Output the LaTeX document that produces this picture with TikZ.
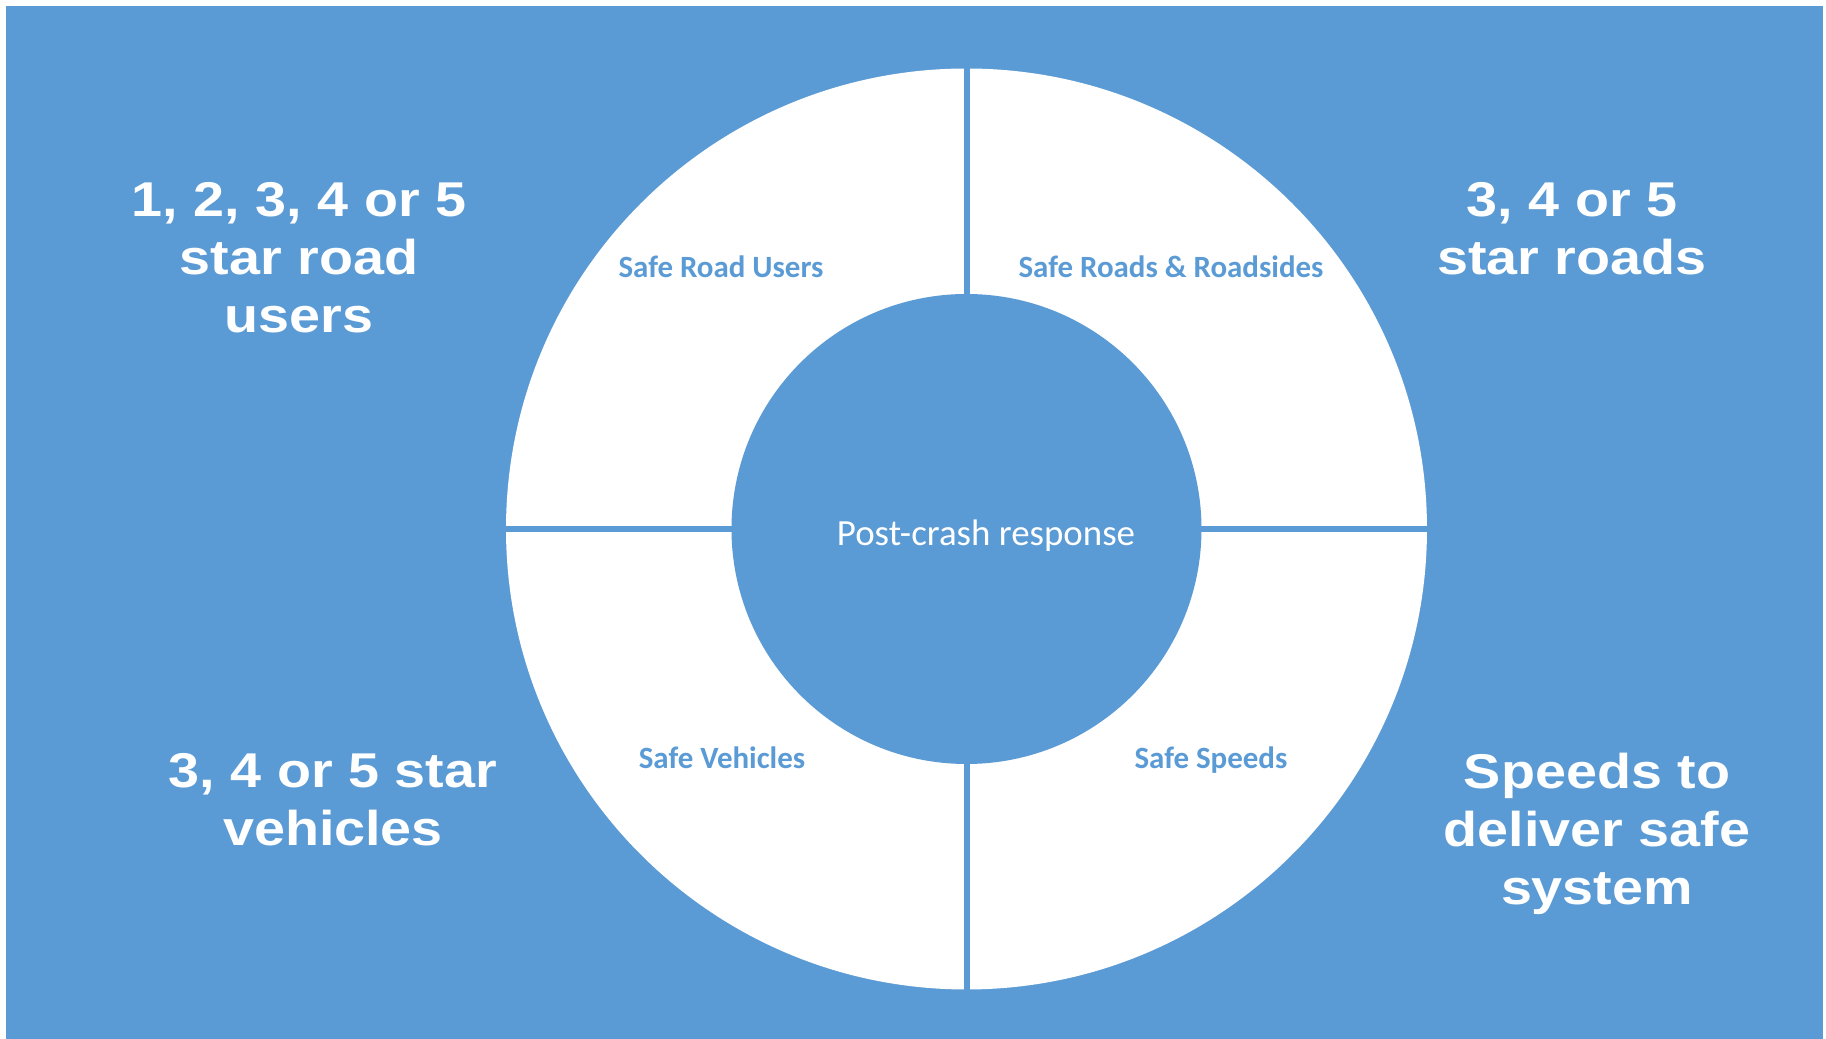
\documentclass[tikz,border=0pt]{standalone}
\usepackage{fontspec}
\setmainfont{Carlito}
\newfontfamily\starfont{Liberation Sans}[FakeStretch=1.14]
\definecolor{pillar}{HTML}{5B9BD5}
\tikzset{
  rating/.style={text=white,align=center,inner sep=0pt,anchor=north,
    font=\starfont\bfseries\fontsize{13.9}{16.5}\selectfont},
  pillarlabel/.style={text=pillar,inner sep=0pt,anchor=base,
    font=\bfseries\fontsize{8.8}{10}\selectfont},
}
\begin{document}
\begin{tikzpicture}
\useasboundingbox (0,0) rectangle (18.26,10.39);
\fill[pillar] (0.06,0) rectangle (18.23,10.33); %background

\coordinate (hub) at (9.665,5.10);
\fill[white] (hub) circle (4.605); %outer ring
\draw[pillar,line width=0.6mm] ([yshift=4.7cm]hub) -- ([yshift=-4.7cm]hub); %vertical split
\draw[pillar,line width=0.6mm] ([xshift=-4.7cm]hub) -- ([xshift=4.7cm]hub); %horizontal split
\fill[pillar] (hub) circle (2.35); %inner disc

% four pillars
\node[pillarlabel] (users)    at (7.21,7.61)  {Safe Road Users};
\node[pillarlabel] (roads)    at (11.71,7.61) {Safe Roads \& Roadsides};
\node[pillarlabel] (vehicles) at (7.22,2.70)  {Safe Vehicles};
\node[pillarlabel] (speeds)   at (12.11,2.70) {Safe Speeds};
\node[text=white,anchor=base,inner sep=0pt,font=\fontsize{10.5}{12}\selectfont]
  (response) at (9.86,4.93) {Post-crash response};

% star ratings round the outside
\node[rating] (userstars)    at (2.99,8.57)  {1, 2, 3, 4 or 5\\star road\\users};
\node[rating] (roadstars)    at (15.72,8.57) {3, 4 or 5\\star roads};
\node[rating] (vehiclestars) at (3.33,2.86)  {3, 4 or 5 star\\vehicles};
\node[rating] (speedtarget)  at (15.97,2.87) {Speeds to\\deliver safe\\system};

\end{tikzpicture}
\end{document}
